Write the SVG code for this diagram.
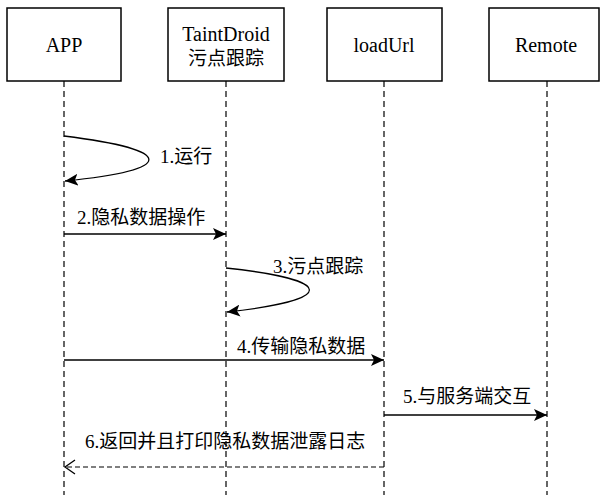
<svg xmlns="http://www.w3.org/2000/svg" width="600" height="495" viewBox="0 0 600 495">
  <style>
    .box { fill: #fff; stroke: #000; stroke-width: 1.5; }
    .life { stroke: #000; stroke-width: 1.2; stroke-dasharray: 6 4; fill: none; }
    .msg { stroke: #000; stroke-width: 1.3; fill: none; }
    .ret { stroke: #000; stroke-width: 1.2; fill: none; stroke-dasharray: 5 3; }
    text { font-family: "Liberation Serif", "Noto Sans CJK SC", serif; font-size: 19px; fill: #000; }
    .name { font-size: 20px; }
    .c { text-anchor: middle; dominant-baseline: central; }
    .lbl { dominant-baseline: central; }
  </style>
  <defs>
    <marker id="solid" markerWidth="14" markerHeight="12" refX="13" refY="6" orient="auto" markerUnits="userSpaceOnUse">
      <path d="M0,0 L13,6 L0,12 L3,6 Z" fill="#000"/>
    </marker>
    <marker id="open" markerWidth="14" markerHeight="16" refX="11" refY="8" orient="auto" markerUnits="userSpaceOnUse">
      <path d="M1,1 L11,8 L1,15" fill="none" stroke="#000" stroke-width="1.3"/>
    </marker>
  </defs>

  <!-- participants -->
  <g id="app">
    <rect class="box" x="7" y="8" width="114" height="73"/>
    <text class="c name" x="64" y="45">APP</text>
    <line class="life" x1="64" y1="81" x2="64" y2="495"/>
  </g>
  <g id="taintdroid">
    <rect class="box" x="168" y="8" width="116" height="73"/>
    <text class="c name" x="226" y="34">TaintDroid</text>
    <text class="c" x="226" y="58">污点跟踪</text>
    <line class="life" x1="226" y1="81" x2="226" y2="495"/>
  </g>
  <g id="loadurl">
    <rect class="box" x="327" y="8" width="115" height="73"/>
    <text class="c name" x="384" y="45">loadUrl</text>
    <line class="life" x1="384" y1="81" x2="384" y2="495"/>
  </g>
  <g id="remote">
    <rect class="box" x="489" y="8" width="110" height="73"/>
    <text class="c name" x="546" y="45">Remote</text>
    <line class="life" x1="547" y1="81" x2="547" y2="495"/>
  </g>

  <!-- messages -->
  <g id="connectors">
    <path class="msg" d="M64,136 C177,150 177,170 65,181" marker-end="url(#solid)"/>
    <text class="lbl" x="160" y="156">1.运行</text>

    <line class="msg" x1="64" y1="234" x2="226" y2="234" marker-end="url(#solid)"/>
    <text class="lbl" x="77" y="217">2.隐私数据操作</text>

    <path class="msg" d="M226,268 C337,280 337,300 227,312" marker-end="url(#solid)"/>
    <text class="lbl" x="273" y="266">3.污点跟踪</text>

    <line class="msg" x1="64" y1="360" x2="384" y2="360" marker-end="url(#solid)"/>
    <text class="lbl" x="237" y="346">4.传输隐私数据</text>

    <line class="msg" x1="384" y1="415" x2="547" y2="415" marker-end="url(#solid)"/>
    <text class="lbl" x="403" y="396">5.与服务端交互</text>

    <line class="ret" x1="384" y1="467" x2="65" y2="467" marker-end="url(#open)"/>
    <text class="lbl" x="85" y="441">6.返回并且打印隐私数据泄露日志</text>
  </g>
</svg>
